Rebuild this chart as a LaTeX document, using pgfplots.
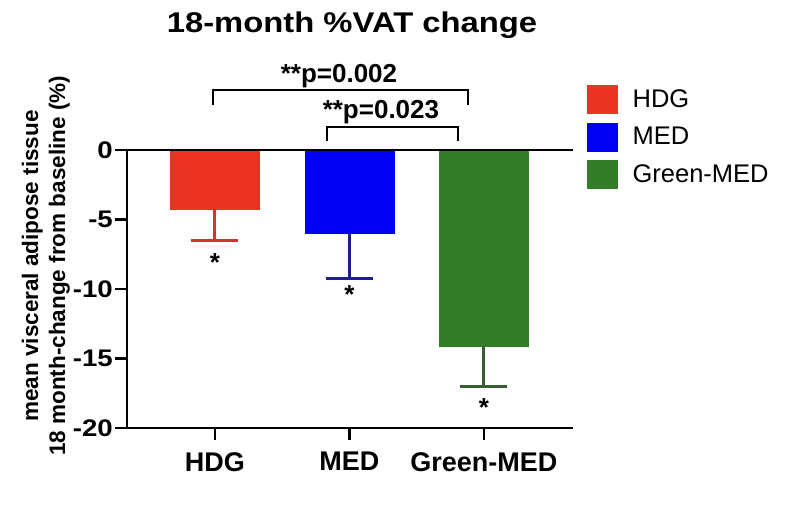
\documentclass[border=0pt]{standalone}
\usepackage{fontspec}
\setmainfont{Liberation Sans}
\newfontfamily\widefont{Liberation Sans}[FakeStretch=1.15]
\usepackage{pgfplots}
\pgfplotsset{compat=1.18}
\definecolor{cred}{RGB}{234,51,35}
\definecolor{credd}{RGB}{205,55,50}
\definecolor{cblue}{RGB}{0,0,245}
\definecolor{cblued}{RGB}{30,30,140}
\definecolor{cgreen}{RGB}{52,125,40}
\definecolor{cgreend}{RGB}{55,95,50}
\begin{document}
\begin{tikzpicture}
\useasboundingbox (-127pt,-88pt) rectangle (673pt,428pt);
\begin{axis}[
  at={(0pt,0pt)}, anchor=south west,
  scale only axis, width=446pt, height=278pt,
  xmin=-0.654, xmax=2.662, ymin=-20, ymax=0,
  separate axis lines,
  axis x line=bottom, axis y line=left,
  axis line style={-, line width=2.8pt, black},
  tick align=outside, major tick length=12pt,
  tick style={line width=2.8pt, black},
  xtick={0,1,2}, xticklabels={HDG,MED,Green-MED},
  ytick={-20,-15,-10,-5,0},
  /pgf/number format/assume math mode=true,
  yticklabel style={font=\widefont\bfseries\fontsize{24}{28}\selectfont, inner sep=2pt},
  xticklabel style={font=\bfseries\fontsize{27}{32}\selectfont, inner sep=2pt, yshift=-10pt},
  ylabel={mean visceral adipose tissue\\18 month-change from baseline (\%)},
  ylabel style={align=center, font=\bfseries\fontsize{22.5}{27}\selectfont,
    at={(axis description cs:-0.182,0.583)}, anchor=center},
  clip=false,
  legend style={at={(axis description cs:1.0314,1.2338)}, anchor=north west,
    draw=none, fill=none, inner sep=0pt, row sep=9pt,
    font=\fontsize{25.5}{30}\selectfont,
    nodes={inner sep=0pt, anchor=west}},
]
\addplot[ybar, bar shift=0pt, bar width=89pt, fill=cred, draw=cred,
  legend image code/.code={\fill[cred] (0pt,-14pt) rectangle (30pt,14pt); \path (45pt,0pt);},
  error bars/.cd, y dir=minus, y explicit,
  error bar style={line width=3pt, color=credd},
  error mark options={rotate=90, line width=3pt, mark size=23.5pt, color=credd}]
  coordinates {(0,-4.26) +- (0,2.26)};
\addlegendentry{HDG}
\addplot[ybar, bar shift=0pt, bar width=89pt, fill=cblue, draw=cblue,
  legend image code/.code={\fill[cblue] (0pt,-14pt) rectangle (30pt,14pt); \path (45pt,0pt);},
  error bars/.cd, y dir=minus, y explicit,
  error bar style={line width=3pt, color=cblued},
  error mark options={rotate=90, line width=3pt, mark size=23.5pt, color=cblued}]
  coordinates {(1,-6.00) +- (0,3.23)};
\addlegendentry{MED}
\addplot[ybar, bar shift=0pt, bar width=89pt, fill=cgreen, draw=cgreen,
  legend image code/.code={\fill[cgreen] (0pt,-14pt) rectangle (30pt,14pt); \path (45pt,0pt);},
  error bars/.cd, y dir=minus, y explicit,
  error bar style={line width=3pt, color=cgreend},
  error mark options={rotate=90, line width=3pt, mark size=23.5pt, color=cgreend}]
  coordinates {(2,-14.10) +- (0,2.93)};
\addlegendentry{Green-MED}
% zero line
\draw[line width=2.8pt] (axis cs:-0.654,0) -- (axis cs:2.662,0);
% asterisks
\node[anchor=base, inner sep=0pt, font=\bfseries\fontsize{26}{30}\selectfont] at (axis cs:0,-8.75) {*};
\node[anchor=base, inner sep=0pt, font=\bfseries\fontsize{26}{30}\selectfont] at (axis cs:1,-11.05) {*};
\node[anchor=base, inner sep=0pt, font=\bfseries\fontsize{26}{30}\selectfont] at (axis cs:2,-19.18) {*};
% brackets
\draw[line width=2.8pt] (axis cs:-0.015,3.24) -- (axis cs:-0.015,4.32) -- (axis cs:1.881,4.32) -- (axis cs:1.881,3.24);
\draw[line width=2.8pt] (axis cs:0.833,0.65) -- (axis cs:0.833,1.65) -- (axis cs:1.807,1.65) -- (axis cs:1.807,0.65);
\node[anchor=base, inner sep=0pt, font=\bfseries\fontsize{26}{30}\selectfont] at (axis cs:0.922,4.82) {**p=0.002};
\node[anchor=base, inner sep=0pt, font=\bfseries\fontsize{26}{30}\selectfont] at (axis cs:1.234,2.30) {**p=0.023};
% title
\node[anchor=base, inner sep=0pt, font=\widefont\bfseries\fontsize{28.5}{34}\selectfont] at (rel axis cs:0.5045,1.4209) {18-month \%VAT change};
\end{axis}
\end{tikzpicture}
\end{document}
